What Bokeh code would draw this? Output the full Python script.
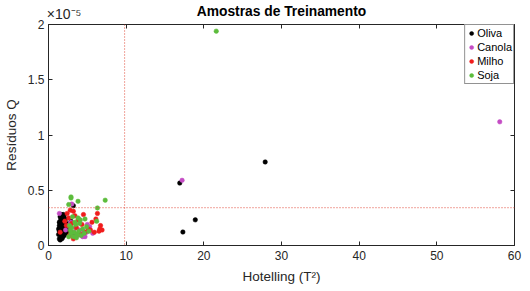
from bokeh.plotting import figure
from bokeh.models import (Span, LinearAxis, FixedTicker, Legend, LegendItem,
                          Range1d, ColumnDataSource)
from bokeh.embed import file_html
from bokeh.resources import INLINE

# Hotelling T^2 (x) and Q residuals (y, in units of 1e-5)
oliva_x = [1.3, 1.4, 1.5, 1.5, 1.6, 1.6, 1.7, 1.7, 1.8, 1.8,
           1.9, 1.9, 2.0, 2.0, 2.1, 2.1, 2.2, 2.2, 1.3, 1.4,
           1.5, 1.6, 1.7, 1.8, 1.9, 2.0, 2.1, 2.3, 1.4, 1.5,
           1.6, 1.7, 1.8, 1.9, 2.0, 1.5, 1.6, 1.7, 1.8, 1.9,
           2.4, 2.5, 1.4, 1.6, 1.8, 2.0, 2.2, 1.5, 1.7, 1.9,
           3.2, 2.9, 3.3, 2.6, 1.7, 2.0, 16.9, 27.9, 18.9, 17.3]
oliva_y = [0.15, 0.18, 0.12, 0.22, 0.08, 0.16, 0.20, 0.11, 0.14, 0.25,
           0.09, 0.18, 0.13, 0.21, 0.16, 0.10, 0.19, 0.14, 0.10, 0.06,
           0.17, 0.21, 0.14, 0.07, 0.23, 0.17, 0.12, 0.20, 0.13, 0.05,
           0.11, 0.24, 0.19, 0.12, 0.09, 0.20, 0.13, 0.17, 0.09, 0.16,
           0.15, 0.11, 0.21, 0.25, 0.12, 0.27, 0.24, 0.26, 0.28, 0.28,
           0.36, 0.22, 0.10, 0.13, 0.06, 0.11, 0.565, 0.756, 0.232, 0.122]

canola_x = [1.4, 3.0, 3.9, 5.3, 5.7, 4.4, 4.7, 4.0, 3.5, 3.3,
            2.2, 2.6, 4.2, 4.9, 5.0, 3.7, 2.9, 4.5, 17.2, 58.1]
canola_y = [0.29, 0.375, 0.24, 0.17, 0.11, 0.08, 0.08, 0.14, 0.16, 0.12,
            0.14, 0.18, 0.10, 0.12, 0.19, 0.09, 0.21, 0.13, 0.59, 1.119]

milho_x = [2.8, 3.2, 4.5, 6.3, 6.7, 6.9, 6.5, 2.4, 3.2, 5.6,
           3.8, 2.3, 2.8, 1.5, 2.9, 4.7, 2.6, 3.0, 3.6, 4.1,
           5.1, 5.9, 2.1, 3.4, 4.3, 6.1, 2.7, 3.9, 5.4, 6.6]
milho_y = [0.32, 0.31, 0.28, 0.29, 0.18, 0.14, 0.13, 0.29, 0.06, 0.21,
           0.23, 0.18, 0.17, 0.12, 0.12, 0.12, 0.25, 0.20, 0.16, 0.10,
           0.15, 0.12, 0.22, 0.27, 0.19, 0.24, 0.09, 0.11, 0.14, 0.15]

soja_x = [2.9, 2.9, 3.8, 7.3, 6.3, 6.2, 2.6, 4.7, 3.1, 3.5,
          4.0, 4.4, 2.8, 3.3, 3.7, 4.9, 2.6, 3.0, 3.9, 4.2,
          4.6, 3.4, 3.6, 2.7, 5.2, 21.6, 3.8, 4.1, 2.9, 3.2]
soja_y = [0.44, 0.43, 0.40, 0.41, 0.34, 0.22, 0.37, 0.24, 0.26, 0.19,
          0.20, 0.15, 0.14, 0.12, 0.10, 0.17, 0.08, 0.16, 0.13, 0.09,
          0.11, 0.21, 0.07, 0.18, 0.13, 1.94, 0.25, 0.23, 0.11, 0.08]

t2_limit = 9.8
q_limit = 0.342

series_names = ["Oliva", "Canola", "Milho", "Soja"]
series_colors = ["#000000", "#c44cc4", "#f01c1c", "#5cbc3c"]
series_x = [oliva_x, canola_x, milho_x, soja_x]
series_y = [oliva_y, canola_y, milho_y, soja_y]

x_ticks = [0, 10, 20, 30, 40, 50, 60]
y_ticks = [0, 0.5, 1, 1.5, 2]
y_tick_labels = {0: "0", 0.5: "0.5", 1: "1", 1.5: "1.5", 2: "2"}
title_text = "Amostras de Treinamento"
exponent_text = "×10⁻⁵"

FONT = "Liberation Sans"
AX = "#262626"
NBSP = "\u00a0"

p = figure(width=528, height=289, output_backend="svg", toolbar_location=None,
           x_range=Range1d(0, 60), y_range=Range1d(0, 2), title_location=None,
           min_border_left=41, min_border_right=14, min_border_top=22,
           min_border_bottom=44)
p.xgrid.visible = False
p.ygrid.visible = False
p.outline_line_color = AX
p.outline_line_width = 1
p.background_fill_color = "white"
p.border_fill_color = "white"

for ax in (p.xaxis[0], p.yaxis[0]):
    ax.major_tick_in = 4
    ax.major_tick_out = 0
    ax.minor_tick_line_color = None
    ax.axis_line_color = AX
    ax.major_tick_line_color = AX
    ax.major_label_text_font = FONT
    ax.major_label_text_font_size = "12px"
    ax.major_label_text_color = AX
    ax.axis_label_text_font = FONT
    ax.axis_label_text_font_size = "13.5px"
    ax.axis_label_text_font_style = "normal"
    ax.axis_label_text_color = AX

p.xaxis[0].ticker = FixedTicker(ticks=x_ticks)
p.yaxis[0].ticker = FixedTicker(ticks=y_ticks)
p.yaxis[0].major_label_overrides = y_tick_labels
p.xaxis[0].axis_label = "Hotelling (T²)"
p.yaxis[0].axis_label = "Resíduos Q"
p.xaxis[0].major_label_standoff = 5
p.xaxis[0].axis_label_standoff = 6
p.yaxis[0].major_label_standoff = 4
p.yaxis[0].axis_label_standoff = 6

# top axis: inward ticks, exponent at the left end, chart title as its label
top_overrides = {t: "" for t in x_ticks}
top_overrides[x_ticks[0]] = NBSP * 8 + exponent_text
top = LinearAxis(ticker=FixedTicker(ticks=x_ticks),
                 major_label_overrides=top_overrides,
                 major_label_text_font=FONT, major_label_text_font_size="14px",
                 major_label_text_color=AX, major_label_standoff=3,
                 major_tick_in=4, major_tick_out=0, minor_tick_line_color=None,
                 axis_line_color=None, major_tick_line_color=AX,
                 axis_label=title_text, axis_label_text_font=FONT,
                 axis_label_text_font_size="13.8px",
                 axis_label_text_font_style="bold",
                 axis_label_text_color="#000000", axis_label_standoff=-16)
right = LinearAxis(ticker=FixedTicker(ticks=y_ticks),
                   major_label_overrides={t: "" for t in y_ticks},
                   major_tick_in=4, major_tick_out=0, minor_tick_line_color=None,
                   axis_line_color=None, major_tick_line_color=AX,
                   major_label_standoff=0)
p.add_layout(top, "above")
p.add_layout(right, "right")

p.add_layout(Span(location=t2_limit, dimension="height", line_color="#e04838",
                  line_dash="1 2", line_width=1))
p.add_layout(Span(location=q_limit, dimension="width", line_color="#e04838",
                  line_dash="1 2", line_width=1))

items = []
for name, color, xs, ys in zip(series_names, series_colors, series_x, series_y):
    src = ColumnDataSource(dict(x=xs, y=ys))
    r = p.scatter("x", "y", source=src, size=4.5, fill_color=color,
                  line_color=color, line_width=0.5)
    items.append(LegendItem(label=name, renderers=[r]))

legend = Legend(items=items, location="top_right", border_line_color=AX,
                border_line_width=1, label_text_font=FONT,
                label_text_font_size="11px", label_text_color="#000000",
                glyph_width=10, glyph_height=14, label_height=14,
                label_standoff=1, spacing=0, padding=1, margin=0,
                background_fill_alpha=1)
p.add_layout(legend)

open("out.html", "w").write(file_html(p, INLINE))
